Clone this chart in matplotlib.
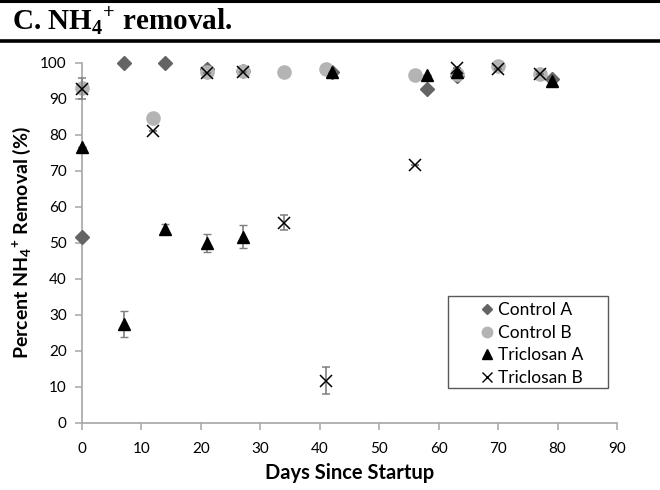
import matplotlib
matplotlib.use("Agg")
import matplotlib.pyplot as plt
from matplotlib.lines import Line2D
from matplotlib.patches import Rectangle

# data
ctrl_a_days = [0, 7, 14, 21, 27, 42, 58, 63, 79]
ctrl_a_vals = [51.5, 100, 99.8, 98.3, 97.8, 97.5, 92.8, 96.3, 95.5]

ctrl_b_days = [0, 12, 21, 27, 34, 41, 56, 63, 70, 77]
ctrl_b_vals = [93, 84.7, 97.3, 97.8, 97.3, 98.3, 96.6, 96.8, 99.2, 96.9]

tric_a_days = [0, 7, 14, 21, 27, 42, 58, 63, 79]
tric_a_vals = [76.7, 27.4, 53.8, 49.9, 51.7, 97.5, 96.5, 97.5, 95.0]
tric_a_err = [0, 3.7, 1.5, 2.5, 3.2, 0, 0, 0, 0]

tric_b_days = [0, 12, 21, 27, 34, 41, 56, 63, 70, 77]
tric_b_vals = [92.8, 81, 97.0, 97.5, 55.6, 11.7, 71.6, 98.5, 98.3, 96.9]
tric_b_err = [3, 0, 0, 0, 2.2, 3.8, 0, 0, 0, 0]

fig = plt.figure(figsize=(6.6, 4.9), dpi=100)

# title band with the rules above and below
fig.add_artist(Line2D([0, 1], [1 - 1 / 490, 1 - 1 / 490], color="black", lw=2.2))
fig.add_artist(Line2D([0, 1], [1 - 41 / 490, 1 - 41 / 490], color="black", lw=2.6))
fig.text(12 / 660, 1 - 21 / 490, r"C. NH$_{\mathregular{4}}$$^{\mathregular{+}}$ removal.",
         family="Liberation Serif", fontweight="bold", fontsize=21, va="center", ha="left")

ax = fig.add_axes([82 / 660, 1 - 422.7 / 490, 535 / 660, 360 / 490])

ax.plot(ctrl_a_days, ctrl_a_vals, "D", color="#646464", ms=7, zorder=3, clip_on=False)
ax.plot(ctrl_b_days, ctrl_b_vals, "o", color="#b4b4b4", ms=9.5, zorder=3, clip_on=False)
eb_a = ax.errorbar(tric_a_days, tric_a_vals, yerr=tric_a_err, fmt="^", color="black", ms=9,
                   ecolor="#7f7f7f", elinewidth=1.2, capsize=3, zorder=4)
eb_b = ax.errorbar(tric_b_days, tric_b_vals, yerr=tric_b_err, fmt="x", color="black", ms=9,
                   mew=1.1, ecolor="#7f7f7f", elinewidth=1.2, capsize=3, zorder=5)
for eb in (eb_a, eb_b):
    for art in eb.get_children():
        art.set_clip_on(False)

ax.set_xlim(0, 90)
ax.set_ylim(0, 100)
ax.set_xticks(range(0, 91, 10))
ax.set_yticks(range(0, 101, 10))

for side in ["top", "right"]:
    ax.spines[side].set_visible(False)
for side in ["left", "bottom"]:
    ax.spines[side].set_color("#a6a6a6")
    ax.spines[side].set_linewidth(1.2)
ax.tick_params(direction="out", length=5, width=1.1, color="#a6a6a6",
               labelsize=11, labelcolor="black")
for lab in ax.get_xticklabels() + ax.get_yticklabels():
    lab.set_family("Lato")
ax.tick_params(axis="x", pad=9)
ax.tick_params(axis="y", pad=6)

ax.set_xlabel("Days Since Startup", family="Lato", fontweight="bold", fontsize=14.5,
              labelpad=5)
ax.set_ylabel(r"Percent NH$_{\mathregular{4}}$$^{\mathregular{+}}$ Removal (%)", family="Lato",
              fontweight="bold", fontsize=14, labelpad=5)

# legend handles without the error bars, as in the original
handles = [
    Line2D([], [], ls="", marker="D", color="#646464", ms=5.5),
    Line2D([], [], ls="", marker="o", color="#b4b4b4", ms=7.5),
    Line2D([], [], ls="", marker="^", color="black", ms=7),
    Line2D([], [], ls="", marker="x", color="black", ms=7, mew=1.0),
]
labels = ["Control A", "Control B", "Triclosan A", "Triclosan B"]
# Excel-style box: wider than its content, entries centred inside
ax.add_patch(Rectangle((0.684, 0.096), 0.299, 0.256, transform=ax.transAxes,
                       facecolor="white", edgecolor="#595959", lw=1.0, zorder=6))
leg = ax.legend(handles, labels, loc="upper left", bbox_to_anchor=(0.735, 0.352),
                frameon=False, handlelength=0.6, handletextpad=0.35, borderpad=0.35,
                labelspacing=0.38, borderaxespad=0, prop={"family": "Lato", "size": 12.5})
leg.set_zorder(7)

plt.savefig("out.png", dpi=100)
